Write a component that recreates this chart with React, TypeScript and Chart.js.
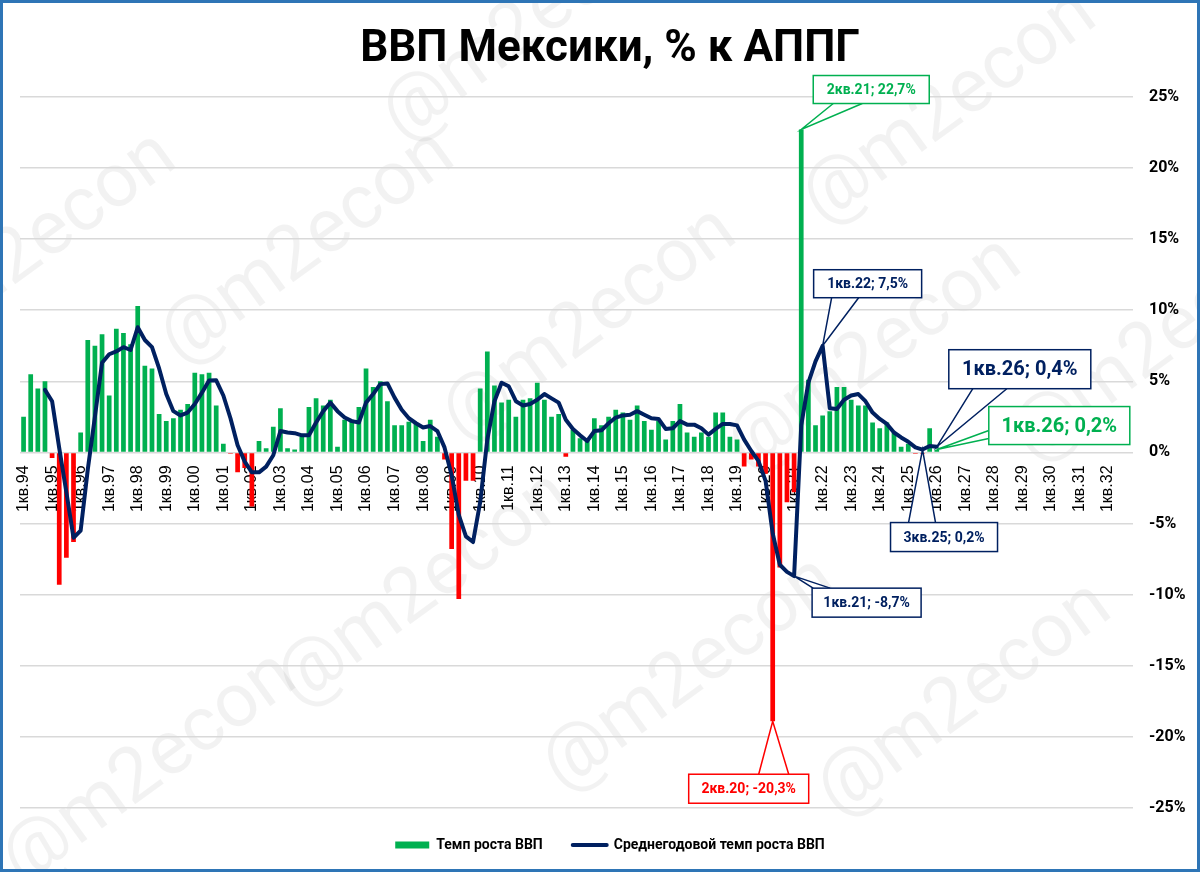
import { useEffect, useRef } from 'react';
import { Chart, registerables } from 'chart.js';

Chart.register(...registerables);

// ---------- data ----------
const YEARS = ['94', '95', '96', '97', '98', '99', '00', '01', '02', '03', '04', '05', '06', '07', '08', '09', '10', '11', '12', '13', '14', '15', '16', '17', '18', '19', '20', '21', '22', '23', '24', '25', '26', '27', '28', '29', '30', '31', '32'];
const QUARTERS = ['1кв.', '2кв.', '3кв.', '4кв.'];
const CATEGORIES = YEARS.flatMap((y) => QUARTERS.map((q) => q + y));

// Темп роста ВВП, % к АППГ (1кв.94 – 1кв.26)
const GDP_GROWTH: number[] = [
  2.5, 5.5, 4.5, 5.0, // 1994
  -0.4, -9.3, -7.4, -6.3, // 1995
  1.4, 7.9, 7.5, 8.3, // 1996
  4.0, 8.7, 8.4, 7.6, // 1997
  10.3, 6.1, 5.9, 2.7, // 1998
  2.2, 2.4, 3.0, 3.4, // 1999
  5.6, 5.5, 5.6, 3.3, // 2000
  0.6, -0.1, -1.4, -1.1, // 2001
  -3.8, 0.8, 0.3, 1.8, // 2002
  3.1, 0.3, 0.2, 1.1, // 2003
  3.2, 3.8, 3.3, 3.7, // 2004
  0.4, 2.3, 2.3, 3.2, // 2005
  5.9, 4.6, 5.0, 3.6, // 2006
  1.9, 1.9, 2.15, 2.0, // 2007
  0.8, 2.3, 1.1, -0.5, // 2008
  -6.8, -10.3, -2.0, -2.0, // 2009
  4.5, 7.1, 4.7, 3.5, // 2010
  3.7, 2.5, 3.7, 3.8, // 2011
  4.9, 3.7, 2.5, 2.7, // 2012
  -0.3, 1.6, 1.0, 0.8, // 2013
  2.4, 1.9, 2.5, 3.0, // 2014
  2.8, 2.3, 3.3, 2.2, // 2015
  1.6, 2.2, 0.9, 2.2, // 2016
  3.4, 1.4, 1.1, 1.4, // 2017
  1.1, 2.8, 2.8, 1.1, // 2018
  0.9, -1.0, -0.5, -1.0, // 2019
  -1.5, -18.9, -8.1, -3.5, // 2020
  -2.8, 22.7, 5.1, 1.9, // 2021
  2.6, 2.9, 4.6, 4.6, // 2022
  3.7, 3.3, 3.3, 2.1, // 2023
  1.7, 2.1, 1.4, 0.4, // 2024
  0.6, -0.1, -0.1, 1.7, // 2025
  0.2, // 2026
];

// Среднегодовой темп роста ВВП
const AVG_GROWTH: (number | null)[] = [
  null, null, null, 4.4, // 1994
  3.6, 0.3, -2.8, -6.0, // 1995
  -5.5, -1.2, 2.5, 6.3, // 1996
  6.9, 7.1, 7.4, 7.2, // 1997
  8.8, 7.9, 7.4, 5.9, // 1998
  4.1, 2.9, 2.6, 2.8, // 1999
  3.4, 4.2, 5.05, 5.07, // 2000
  4.0, 2.4, 0.5, -0.65, // 2001
  -1.4, -1.4, -1.0, -0.2, // 2002
  1.5, 1.4, 1.35, 1.2, // 2003
  1.2, 2.1, 2.9, 3.5, // 2004
  2.9, 2.45, 2.2, 2.1, // 2005
  3.5, 4.1, 4.8, 4.85, // 2006
  3.85, 3.0, 2.4, 2.05, // 2007
  1.75, 1.85, 1.5, 0.35, // 2008
  -1.6, -4.4, -5.9, -6.3, // 2009
  -3.5, 0.9, 3.6, 4.9, // 2010
  4.65, 3.6, 3.3, 3.4, // 2011
  3.7, 4.1, 3.8, 3.5, // 2012
  2.3, 1.65, 1.2, 0.8, // 2013
  1.5, 1.55, 2.05, 2.45, // 2014
  2.6, 2.65, 2.9, 2.65, // 2015
  2.4, 2.35, 1.65, 1.7, // 2016
  2.2, 1.95, 1.95, 1.7, // 2017
  1.25, 1.65, 2.0, 2.0, // 2018
  1.9, 0.9, 0.1, -0.6, // 2019
  -2.0, -5.7, -7.9, -8.4, // 2020
  -8.7, 1.9, 4.9, 6.4, // 2021
  7.5, 3.1, 3.05, 3.7, // 2022
  4.0, 4.1, 3.6, 2.8, // 2023
  2.35, 2.0, 1.4, 1.05, // 2024
  0.75, 0.35, 0.2, 0.45, // 2025
  0.4, // 2026
];

const Y_MIN = -25;
const Y_MAX = 25;
const Y_STEP = 5;

const TITLE = 'ВВП Мексики, % к АППГ';
const BAR_LABEL = 'Темп роста ВВП';
const LINE_LABEL = 'Среднегодовой темп роста ВВП';

// callout texts (category label + dataset)
const CALLOUTS = [
  { text: '2кв.21; 22,7%', category: '2кв.21', dataset: 0, tone: 'green' },
  { text: '1кв.22; 7,5%', category: '1кв.22', dataset: 1, tone: 'navy' },
  { text: '1кв.26; 0,4%', category: '1кв.26', dataset: 1, tone: 'navy' },
  { text: '1кв.26; 0,2%', category: '1кв.26', dataset: 0, tone: 'green' },
  { text: '3кв.25; 0,2%', category: '3кв.25', dataset: 1, tone: 'navy' },
  { text: '1кв.21; -8,7%', category: '1кв.21', dataset: 1, tone: 'navy' },
  { text: '2кв.20; -20,3%', category: '2кв.20', dataset: 0, tone: 'red' },
];

// ---------- styles / layout ----------
const GREEN = '#00b050';
const RED = '#ff0000';
const NAVY = '#002060';
const TONES: Record<string, string> = { green: GREEN, navy: NAVY, red: RED };
const FONT = 'Roboto, "Open Sans", sans-serif';

// box offsets relative to the anchor point: dx, dy, w, h, font size, side, base positions
const CALLOUT_LAYOUT = [
  { dx: 12, dy: -54, w: 116, h: 28, size: 14, side: 'bottom', b1: 20, b2: 49 },
  { dx: -9, dy: -76, w: 108, h: 28, size: 14, side: 'bottom', b1: 18, b2: 45 },
  { dx: 12, dy: -97, w: 142, h: 39, size: 20, side: 'bottom', b1: 24, b2: 58 },
  { dx: 52, dy: -43, w: 141, h: 38, size: 20, side: 'left', b1: 24, b2: 32 },
  { dx: -32, dy: 73, w: 107, h: 29, size: 14, side: 'top', b1: 18, b2: 45 },
  { dx: 18, dy: 12, w: 109, h: 29, size: 14, side: 'top', b1: 1, b2: 18 },
  { dx: -84, dy: 53, w: 120, h: 29, size: 14, side: 'top', b1: 70, b2: 100 },
];

const WATERMARKS = [
  [530, 25], [950, 108], [30, 250], [308, 248], [590, 325], [875, 355], [1160, 345],
  [150, 770], [425, 590], [690, 675], [965, 700],
];

const backgroundPlugin = {
  id: 'bgAndWatermark',
  beforeDraw(chart: any) {
    const { ctx, width, height } = chart;
    ctx.save();
    ctx.fillStyle = '#ffffff';
    ctx.fillRect(0, 0, width, height);
    ctx.fillStyle = 'rgba(0,0,0,0.05)';
    ctx.font = `76px ${FONT}`;
    ctx.textAlign = 'center';
    ctx.textBaseline = 'middle';
    for (const [x, y] of WATERMARKS) {
      ctx.save();
      ctx.translate(x, y);
      ctx.rotate((-36 * Math.PI) / 180);
      ctx.fillText('@m2econ', 0, 0);
      ctx.restore();
    }
    ctx.restore();
  },
  afterDraw(chart: any) {
    const { ctx, width, height } = chart;
    ctx.save();
    ctx.strokeStyle = '#2e75b6';
    ctx.lineWidth = 3;
    ctx.strokeRect(1.5, 1.5, width - 3, height - 3);
    ctx.restore();
  },
};

const calloutPlugin = {
  id: 'callouts',
  afterDatasetsDraw(chart: any) {
    const { ctx } = chart;
    const xs = chart.scales.x;
    const ys = chart.scales.y;
    CALLOUTS.forEach((c, i) => {
      const L = CALLOUT_LAYOUT[i];
      const idx = CATEGORIES.indexOf(c.category);
      const val = chart.data.datasets[c.dataset].data[idx] as number;
      const ax = xs.getPixelForValue(idx);
      const ay = ys.getPixelForValue(val);
      const bx = ax + L.dx;
      const by = ay + L.dy;
      const color = TONES[c.tone];
      let p1: number[];
      let p2: number[];
      if (L.side === 'bottom') {
        p1 = [bx + L.b1, by + L.h];
        p2 = [bx + L.b2, by + L.h];
      } else if (L.side === 'top') {
        p1 = [bx + L.b1, by];
        p2 = [bx + L.b2, by];
      } else {
        p1 = [bx, by + L.b1];
        p2 = [bx, by + L.b2];
      }
      ctx.save();
      ctx.lineWidth = 1.5;
      ctx.strokeStyle = color;
      ctx.fillStyle = '#ffffff';
      ctx.beginPath();
      ctx.moveTo(p1[0], p1[1]);
      ctx.lineTo(ax, ay);
      ctx.lineTo(p2[0], p2[1]);
      ctx.closePath();
      ctx.fill();
      ctx.beginPath();
      ctx.moveTo(p1[0], p1[1]);
      ctx.lineTo(ax, ay);
      ctx.lineTo(p2[0], p2[1]);
      ctx.stroke();
      ctx.fillRect(bx, by, L.w, L.h);
      ctx.strokeRect(bx, by, L.w, L.h);
      ctx.fillStyle = color;
      ctx.font = `bold ${L.size}px ${FONT}`;
      ctx.textAlign = 'center';
      ctx.textBaseline = 'middle';
      ctx.fillText(c.text, bx + L.w / 2, by + L.h / 2 + 1);
      ctx.restore();
    });
  },
};

export default function App() {
  const canvasRef = useRef<HTMLCanvasElement | null>(null);

  useEffect(() => {
    document.body.style.margin = '0';
    const canvas = canvasRef.current;
    if (!canvas) return;
    const chart = new Chart(canvas, {
      type: 'bar',
      data: {
        labels: CATEGORIES,
        datasets: [
          {
            type: 'bar',
            label: BAR_LABEL,
            data: GDP_GROWTH,
            backgroundColor: (c: any) => ((c.raw as number) < 0 ? RED : GREEN),
            barPercentage: 0.66,
            categoryPercentage: 1,
            order: 1,
          } as any,
          {
            type: 'line',
            label: LINE_LABEL,
            data: AVG_GROWTH,
            borderColor: NAVY,
            backgroundColor: NAVY,
            borderWidth: 4,
            pointRadius: 0,
            tension: 0,
            borderJoinStyle: 'round',
            borderCapStyle: 'round',
            order: 0,
          } as any,
        ],
      },
      options: {
        responsive: false,
        animation: false,
        layout: { padding: { left: 20, right: 0, top: 0, bottom: 10 } },
        scales: {
          x: {
            type: 'category',
            position: { y: 0 } as any,
            offset: true,
            grid: { display: false, drawTicks: false },
            border: { display: false },
            ticks: {
              autoSkip: false,
              maxRotation: 90,
              minRotation: 90,
              padding: 13,
              color: '#000000',
              font: { family: '"Liberation Sans", Arial, sans-serif', size: 16 },
              callback: (_v: any, i: number) => (CATEGORIES[i].startsWith('1кв') ? CATEGORIES[i] : ''),
            },
          },
          y: {
            position: 'right',
            min: Y_MIN,
            max: Y_MAX,
            ticks: {
              stepSize: Y_STEP,
              padding: 16,
              color: '#000000',
              font: { family: FONT, size: 16, weight: 'bold' },
              callback: (v: any) => `${v}%`,
            },
            grid: { color: '#d9d9d9', lineWidth: 1.5, drawTicks: false },
            border: { display: false },
            afterFit: (s: any) => {
              s.width = 67;
            },
          },
        },
        plugins: {
          title: {
            display: true,
            text: TITLE,
            color: '#000000',
            font: { family: FONT, size: 44, weight: 'bold' },
            padding: { top: 24, bottom: 20 },
          },
          legend: {
            position: 'bottom',
            labels: {
              usePointStyle: true,
              pointStyleWidth: 34,
              boxHeight: 7,
              padding: 30,
              color: '#000000',
              font: { family: FONT, size: 14, weight: 'bold' },
              generateLabels: () => [
                { text: BAR_LABEL, fillStyle: GREEN, strokeStyle: GREEN, lineWidth: 0, pointStyle: 'rect', datasetIndex: 0, hidden: false },
                { text: LINE_LABEL, fillStyle: NAVY, strokeStyle: NAVY, lineWidth: 4, pointStyle: 'line', lineCap: 'round', datasetIndex: 1, hidden: false },
              ] as any,
            },
          },
          tooltip: { enabled: false },
        },
      } as any,
      plugins: [backgroundPlugin, calloutPlugin],
    });
    return () => chart.destroy();
  }, []);

  return (
    <div style={{ width: 1200, height: 872, position: 'relative', overflow: 'hidden' }}>
      <canvas ref={canvasRef} width={1200} height={872} style={{ display: 'block' }} />
    </div>
  );
}
